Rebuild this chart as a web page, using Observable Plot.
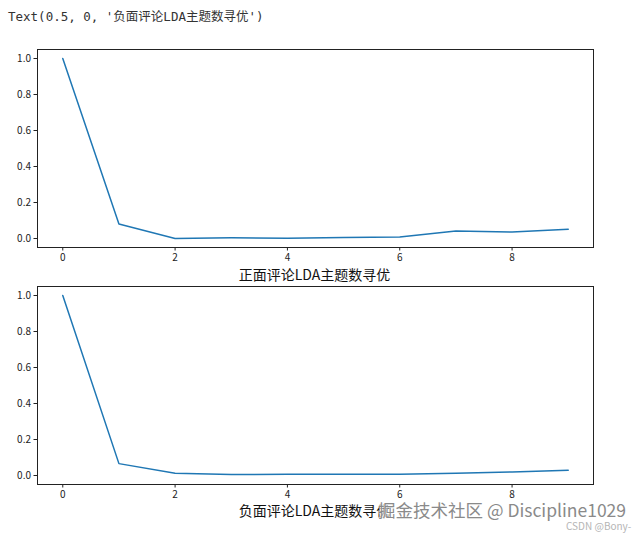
<!DOCTYPE html>
<html>
<head>
<meta charset="utf-8">
<script src="https://cdn.jsdelivr.net/npm/d3@7"></script>
<script src="https://cdn.jsdelivr.net/npm/@observablehq/plot@0.6"></script>
<style>
  html, body { margin: 0; padding: 0; background: #fff; }
  #wrap { position: relative; width: 642px; height: 537px; overflow: hidden; }
  .abs { position: absolute; white-space: nowrap; }
  #repr { left: 8px; top: 6px; font-family: "DejaVu Sans Mono", "Noto Sans CJK SC", monospace; font-size: 12.5px; color: #333; }
  .title { font-family: "Noto Sans CJK SC", sans-serif; font-size: 14px; color: #111; transform: translateX(-50%); }
  #wm { font-family: "Noto Sans CJK SC", "DejaVu Sans", sans-serif; font-size: 17.5px; color: #8a8a8a;
        text-shadow: 0 0 2px #fff, 0 0 2px #fff; line-height: 1.2; }
  #csdn { font-family: "Noto Sans CJK SC", sans-serif; font-size: 10px; color: #b5b5b5; line-height: 1.2; }
</style>
</head>
<body>
<div id="wrap">
  <div id="repr" class="abs"></div>
  <div id="p1" class="abs" style="left:0;top:40px;"></div>
  <div id="t1" class="abs title" style="left:314.5px;top:264px;"></div>
  <div id="p2" class="abs" style="left:0;top:280px;"></div>
  <div id="t2" class="abs title" style="left:314.5px;top:500px;"></div>
  <div id="wm" class="abs" style="left:378px;top:499px;"></div>
  <div id="csdn" class="abs" style="left:566px;top:520px;"></div>
</div>
<script>
// ---- data ----
const topicCounts = [0, 1, 2, 3, 4, 5, 6, 7, 8, 9];
const positiveValues = [1.0, 0.080, 0.000, 0.004, 0.002, 0.006, 0.009, 0.041, 0.036, 0.052];
const negativeValues = [1.0, 0.066, 0.013, 0.005, 0.007, 0.007, 0.007, 0.013, 0.020, 0.029];
const xTicks = [0, 2, 4, 6, 8];
const yTicks = [0, 0.2, 0.4, 0.6, 0.8, 1.0];
const reprText = "Text(0.5, 0, '负面评论LDA主题数寻优')";
const posTitle = "正面评论LDA主题数寻优";
const negTitle = "负面评论LDA主题数寻优";
const watermark = "掘金技术社区 @ Discipline1029";
const csdnMark = "CSDN @Bony-";

document.getElementById("repr").textContent = reprText;
document.getElementById("t1").textContent = posTitle;
document.getElementById("t2").textContent = negTitle;
document.getElementById("wm").textContent = watermark;
document.getElementById("csdn").textContent = csdnMark;

function makePlot(values, marginTop, marginBottom) {
  const data = topicCounts.map((k, i) => ({k, v: values[i]}));
  return Plot.plot({
    width: 642,
    height: 230,
    marginLeft: 37,
    marginRight: 49,
    marginTop,
    marginBottom,
    style: {fontFamily: "'Noto Sans CJK SC', 'DejaVu Sans', sans-serif", fontSize: "10px", color: "#222", background: "transparent"},
    x: {domain: [-0.45, 9.45], ticks: xTicks, tickFormat: d3.format("d"), tickSize: 3.5, tickPadding: 3, label: null},
    y: {domain: [-0.05, 1.05], ticks: yTicks, tickFormat: d3.format(".1f"), tickSize: 3.5, tickPadding: 3, label: null},
    marks: [
      Plot.lineY(data, {x: "k", y: "v", stroke: "#1f77b4", strokeWidth: 1.5}),
      Plot.frame({stroke: "#222", strokeWidth: 1})
    ]
  });
}

document.getElementById("p1").appendChild(makePlot(positiveValues, 9, 23));
document.getElementById("p2").appendChild(makePlot(negativeValues, 6, 26));
</script>
</body>
</html>
